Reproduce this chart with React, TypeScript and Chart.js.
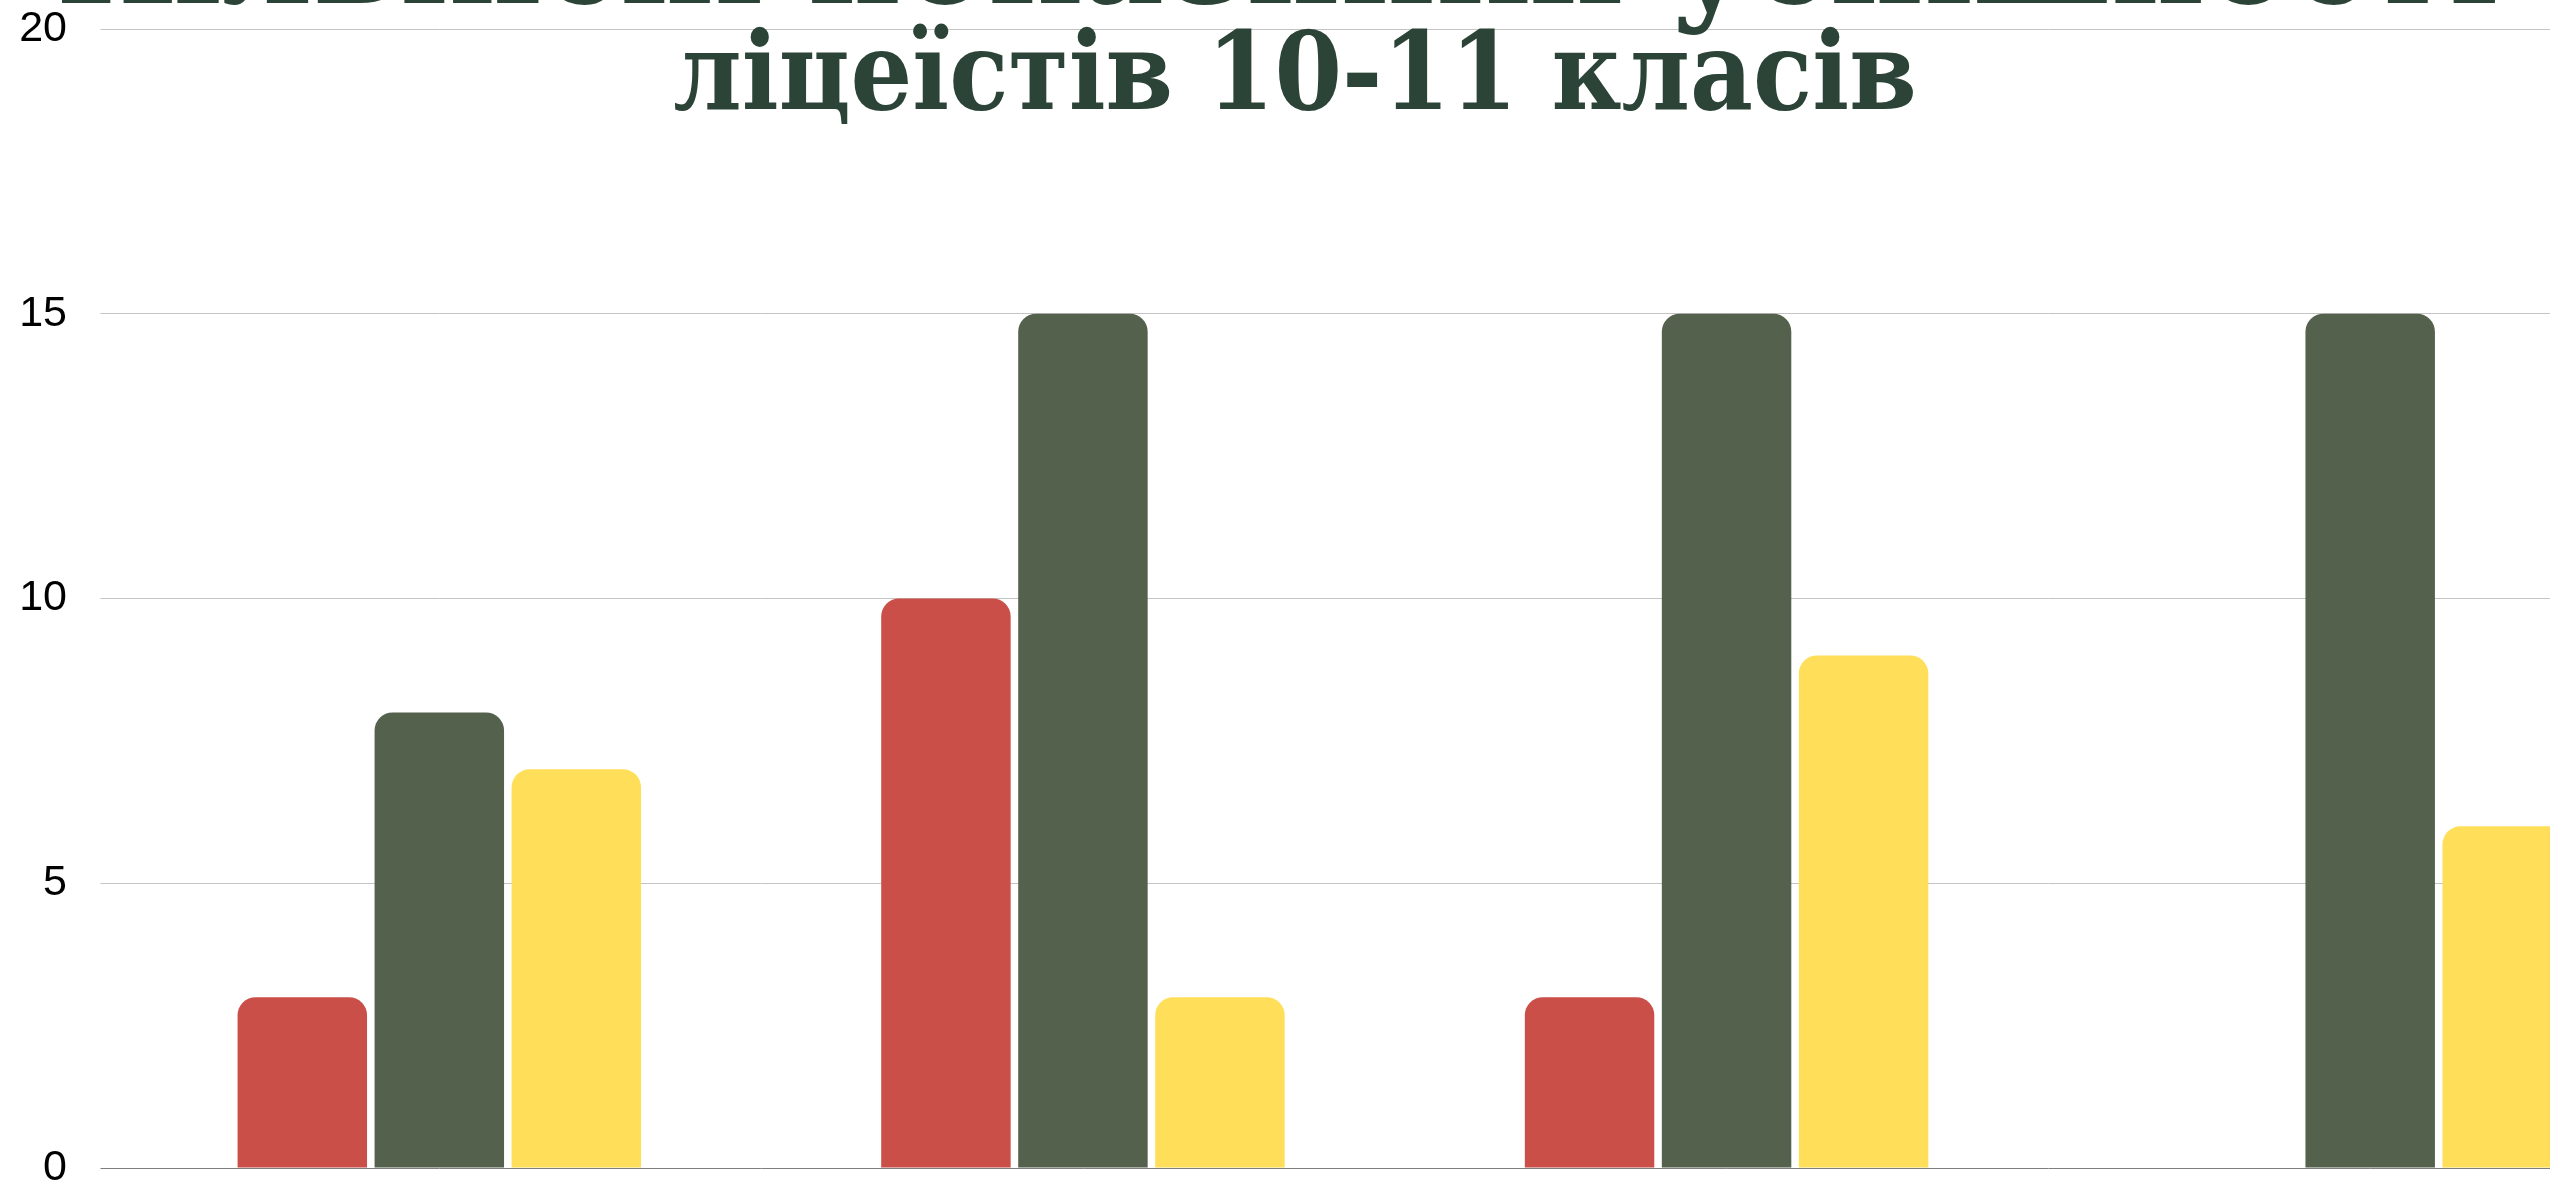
import React, { useEffect, useRef } from 'react';
import { Chart, registerables } from 'chart.js';

Chart.register(...registerables);

// ---- data ----
const categories = ['10-А клас', '10-Б клас', '11-А клас', '11-Б клас'];
const seriesNames = ['Високий рівень', 'Достатній рівень', 'Середній рівень'];
const highValues = [3, 10, 3, 0];
const sufficientValues = [8, 15, 15, 15];
const averageValues = [7, 3, 9, 6];
const yTickValues = [0, 5, 10, 15, 20];
const titleLine1 = 'Кількісні показники успішності';
const titleLine2 = 'ліцеїстів 10-11 класів';

const seriesColors = ['#ca4f48', '#54614c', '#ffde59'];
const titleColor = '#2c4437';

const CANVAS_W = 2700;
const CANVAS_H = 1329;
const CANVAS_TOP = -51;

export default function App() {
  const ref = useRef<HTMLCanvasElement>(null);

  useEffect(() => {
    if (!ref.current) return;
    const seriesValues = [highValues, sufficientValues, averageValues];
    const chart = new Chart(ref.current, {
      type: 'bar',
      data: {
        labels: categories,
        datasets: seriesNames.map((name, i) => ({
          label: name,
          data: seriesValues[i],
          backgroundColor: seriesColors[i],
          borderWidth: 0,
          borderRadius: { topLeft: 18, topRight: 18, bottomLeft: 0, bottomRight: 0 },
          borderSkipped: false,
          categoryPercentage: 0.6386,
          barPercentage: 0.945,
        })),
      },
      options: {
        responsive: false,
        animation: false,
        layout: { padding: { top: 80, bottom: 10, left: 0, right: 8 } },
        plugins: {
          legend: { display: false },
          title: { display: false },
          tooltip: { enabled: false },
        },
        scales: {
          x: {
            grid: { display: false },
            border: { display: false },
            ticks: { color: '#000', font: { family: '"Liberation Sans", Arial, sans-serif', size: 30 } },
            afterFit: (s: any) => { s.height = 100; },
          },
          y: {
            min: 0,
            max: 20,
            afterBuildTicks: (s: any) => { s.ticks = yTickValues.map((v) => ({ value: v })); },
            ticks: {
              padding: 33.5,
              color: '#000',
              font: { family: '"Liberation Sans", Arial, sans-serif', size: 43 },
            },
            grid: {
              color: (ctx: any) => (ctx.tick && ctx.tick.value === 0 ? '#7e7e7e' : '#c4c4c4'),
              tickColor: (ctx: any) => (ctx.tick && ctx.tick.value === 0 ? '#7e7e7e' : '#c4c4c4'),
              tickLength: 17,
              drawTicks: true,
            },
            border: { display: false },
            afterFit: (s: any) => { s.width = 117.5; },
          },
        },
      },
    });
    return () => chart.destroy();
  }, []);

  const lineStyle: React.CSSProperties = {
    position: 'absolute',
    width: 2550,
    textAlign: 'center',
    fontFamily: '"DejaVu Serif", serif',
    fontWeight: 'bold',
    fontStretch: 'condensed',
    color: titleColor,
    whiteSpace: 'nowrap',
    zIndex: 2,
  };

  return (
    <div style={{ position: 'absolute', left: 0, top: 0, width: 2550, height: 1184, overflow: 'hidden', background: '#fff' }}>
      <canvas
        ref={ref}
        width={CANVAS_W}
        height={CANVAS_H}
        style={{ position: 'absolute', left: 0, top: CANVAS_TOP, width: CANVAS_W, height: CANVAS_H, display: 'block' }}
      />
      <div style={{ ...lineStyle, left: 2, top: -118, fontSize: 143, lineHeight: '143px' }}>{titleLine1}</div>
      <div style={{ ...lineStyle, left: 20, top: 17, fontSize: 108, lineHeight: '108px' }}>{titleLine2}</div>
    </div>
  );
}
